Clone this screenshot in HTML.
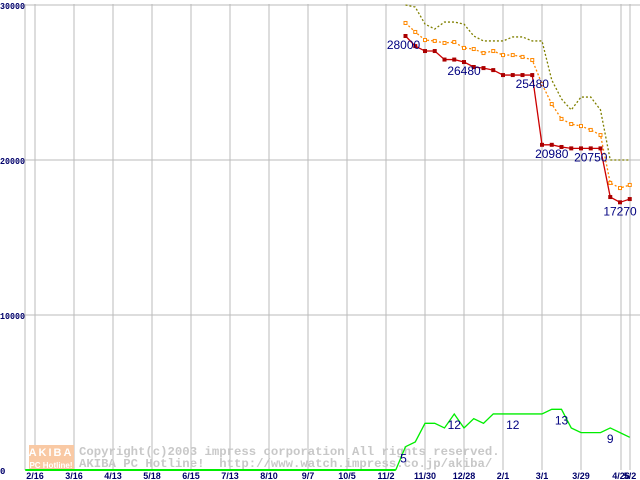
<!DOCTYPE html>
<html><head><meta charset="utf-8"><style>
body{margin:0;background:#fff}
svg{display:block;font-family:"Liberation Sans",sans-serif}
.mono{font-family:"Liberation Mono",monospace}
</style></head><body>
<svg id="chart" width="640" height="480" xmlns="http://www.w3.org/2000/svg"></svg>
<script>
const xLabels=["2/16","3/16","4/13","5/18","6/15","7/13","8/10","9/7","10/5","11/2","11/30","12/28","2/1","3/1","3/29","4/26","5/2"];
const yTicks=[0,10000,20000,30000];
const minPrice=[28000,27350,27030,27030,26480,26480,26320,26000,25930,25800,25480,25480,25480,25480,20980,20980,20840,20750,20750,20750,20750,17610,17270,17480];
const avgPrice=[28840,28260,27740,27680,27550,27610,27230,27160,26900,27030,26770,26770,26650,26450,24900,23610,22650,22320,22190,21940,21610,18520,18190,18390];
const maxPrice=[30000,29870,28770,28450,28900,28900,28770,28000,27680,27680,27680,27940,27940,27680,27680,25160,23940,23230,24060,24060,23230,20000,20000,20000];
const shopCount=[5,6,10,10,9,12,9,11,10,12,12,12,12,12,12,13,13,9,8,8,8,9,8,7];
const priceLabels=[[0,"28000"],[6,"26480"],[13,"25480"],[15,"20980"],[19,"20750"],[22,"17270"]];
const countLabels=[[0,"5"],[5,"12"],[11,"12"],[16,"13"],[21,"9"]];
const firstWeek=2, zeroWeeks=39;
const svg=document.getElementById('chart');const NS="http://www.w3.org/2000/svg";
const X=w=>386+w*9.75, Y=v=>470-v*0.0155, YC=c=>470-c*4.67;
function el(t,a,p){const e=document.createElementNS(NS,t);for(const k in a)e.setAttribute(k,a[k]);(p||svg).appendChild(e);return e;}
el('line',{x1:25,y1:4,x2:25,y2:470,stroke:'#bbb'});
xLabels.forEach((l,i)=>{const x=i<15?35+i*39:(i==15?621:630);
 const g=el('line',{x1:x,y1:4,x2:x,y2:470,stroke:'#bbb'});
 
 const t=el('text',{x:x,y:479,'font-size':9,'font-weight':'bold',fill:'#00006a','text-anchor':'middle'});t.textContent=l;
 });
yTicks.forEach(v=>{const y=Y(v);
 if(v>0){const g=el('line',{x1:25,y1:y,x2:640,y2:y,stroke:'#bbb'});}
 const a={x:v?0:0,y:y+4,'font-size':9,'font-weight':'bold',fill:'#00006a','class':'mono'};
 if(v){a.textLength=25;a.lengthAdjust='spacingAndGlyphs';}
 const t=el('text',a);t.textContent=v;
 });
const wm=el('g',{});
el('rect',{x:29,y:445,width:45,height:25,fill:'#f9c9a4'},wm);
el('text',{x:51,y:456,'font-size':11,'font-weight':'bold',fill:'#fff','text-anchor':'middle','letter-spacing':2},wm).textContent="AKIBA";
el('text',{x:51,y:468,'font-size':8,'font-weight':'bold',fill:'#fff','text-anchor':'middle'},wm).textContent="PC Hotline!";
el('text',{x:79,y:455,'font-size':12.3,'font-weight':'bold',fill:'#c8c8c8','class':'mono'},wm).textContent="Copyright(c)2003 impress corporation All rights reserved.";
el('text',{x:79,y:467,'font-size':12.3,'font-weight':'bold',fill:'#c8c8c8','class':'mono','style':'white-space:pre'},wm).textContent="AKIBA PC Hotline!  http://www.watch.impress.co.jp/akiba/";
function line(vals,fy,stroke,dash,name,w){const pts=vals.map((v,i)=>X(i+firstWeek)+','+fy(v)).join(' ');
 const p=el('polyline',{points:pts,fill:'none',stroke:stroke,'stroke-width':w||1.3,'stroke-dasharray':dash||''});
 }
const z=el('line',{x1:X(firstWeek-zeroWeeks),y1:YC(0),x2:X(firstWeek-1),y2:YC(0),stroke:'#00ee00','stroke-width':2});

const zl=el('line',{x1:X(firstWeek-1),y1:YC(0),x2:X(firstWeek),y2:YC(shopCount[0]),stroke:'#00ee00','stroke-width':1.3});

line(shopCount,YC,'#00ee00','', 'shop-count-line');
line(maxPrice,Y,'#808000','2,2','max-price-line');
line(avgPrice,Y,'#ff8800','2,2','avg-price-line');
avgPrice.forEach((v,i)=>{const r=el('rect',{x:X(i+firstWeek)-1.5,y:Y(v)-1.5,width:3,height:3,fill:'#fff',stroke:'#ff8800','stroke-width':1});
 });
line(minPrice,Y,'#cc0000','','min-price-line');
minPrice.forEach((v,i)=>{const r=el('rect',{x:X(i+firstWeek)-2,y:Y(v)-2,width:4,height:4,fill:'#aa0000'});
 });
priceLabels.forEach(([i,s])=>{const t=el('text',{x:X(i+firstWeek)+(i==0?-2:0),y:Y(minPrice[i])+13,'font-size':12,fill:'#000080','text-anchor':'middle'});t.textContent=s;
 });
countLabels.forEach(([i,s])=>{const t=el('text',{x:X(i+firstWeek)+(i==0?-2:0),y:YC(shopCount[i])+(i==0?16:15),'font-size':12,fill:'#000080','text-anchor':'middle'});t.textContent=s;
 });
</script>
</body></html>
